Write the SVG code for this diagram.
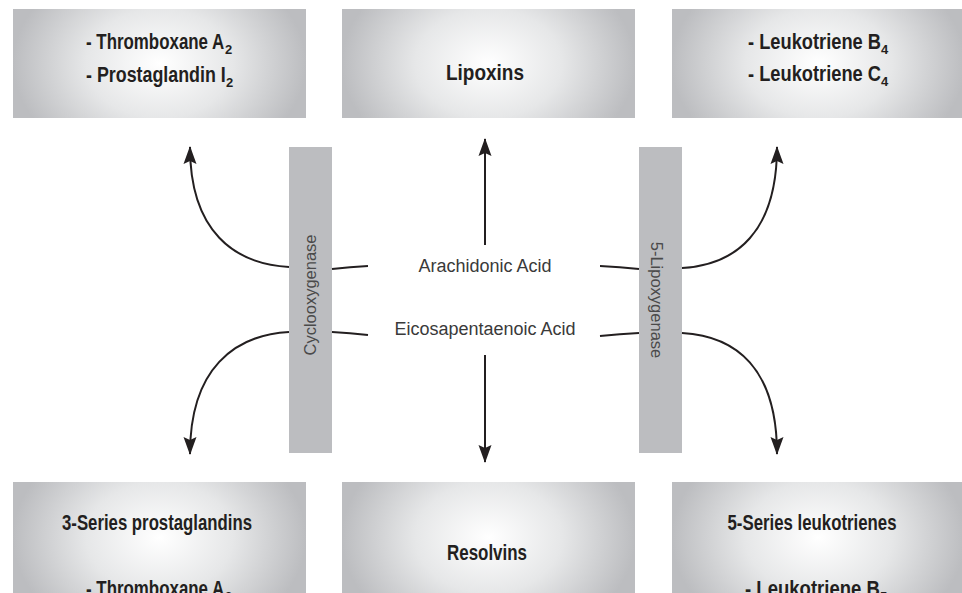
<svg xmlns="http://www.w3.org/2000/svg" width="962" height="593" viewBox="0 0 962 593">
<defs>
<radialGradient id="boxGrad" cx="0.5" cy="0.5" r="0.5" gradientTransform="translate(0.5,0.5) scale(1,2) translate(-0.5,-0.5)">
<stop offset="0" stop-color="#ffffff"/>
<stop offset="0.5" stop-color="#e6e7e8"/>
<stop offset="1" stop-color="#bcbdc0"/>
</radialGradient>
<marker id="arrow" markerUnits="userSpaceOnUse" markerWidth="20" markerHeight="14" viewBox="-1 -7 20 14" refX="17" refY="0" orient="auto">
<path d="M0,-6.5 L18,0 L0,6.5 L3,0 Z" fill="#231f20"/>
</marker>
</defs>
<style>
.box{fill:url(#boxGrad);}
.bar{fill:#bcbdc0;}
.bt{font-family:"Liberation Sans",Arial,sans-serif;font-weight:bold;font-size:22px;fill:#231f20;text-anchor:middle;}
.bl{font-family:"Liberation Sans",Arial,sans-serif;font-weight:bold;font-size:22px;fill:#231f20;text-anchor:start;}
.sub{font-family:"Liberation Sans",Arial,sans-serif;font-weight:bold;font-size:13px;fill:#231f20;text-anchor:start;}
.acid{font-family:"Liberation Sans",Arial,sans-serif;font-size:18px;fill:#3a3a3a;text-anchor:middle;}
.enz{font-family:"Liberation Sans",Arial,sans-serif;font-size:16.5px;fill:#4a4a4a;text-anchor:middle;}
.conn{fill:none;stroke:#231f20;stroke-width:2;}
.arr{marker-end:url(#arrow);}
</style>
<rect width="962" height="593" fill="#ffffff"/>

<g id="node-thromboxane-a2">
<rect class="box" x="13" y="9" width="293" height="109"/>
<text class="bl" transform="translate(86,49) scale(0.768,1)">- Thromboxane A</text>
<text class="sub" x="225" y="54">2</text>
<text class="bl" transform="translate(86,82) scale(0.812,1)">- Prostaglandin I</text>
<text class="sub" x="226" y="87">2</text>
</g>
<g id="node-lipoxins">
<rect class="box" x="342" y="9" width="293" height="109"/>
<text class="bt" x="485" y="80" textLength="78" lengthAdjust="spacingAndGlyphs">Lipoxins</text>
</g>
<g id="node-leukotriene-b4">
<rect class="box" x="672" y="9" width="293" height="109"/>
<text class="bl" transform="translate(748,49) scale(0.831,1)">- Leukotriene B</text>
<text class="sub" x="881" y="54">4</text>
<text class="bl" transform="translate(748,81) scale(0.831,1)">- Leukotriene C</text>
<text class="sub" x="881" y="86">4</text>
</g>
<g id="node-3-series">
<rect class="box" x="13" y="482" width="293" height="111"/>
<text class="bt" x="157" y="530" textLength="190" lengthAdjust="spacingAndGlyphs">3-Series prostaglandins</text>
<text class="bl" transform="translate(86,596) scale(0.768,1)">- Thromboxane A</text>
<text class="sub" x="225" y="601">3</text>
</g>
<g id="node-resolvins">
<rect class="box" x="342" y="482" width="293" height="111"/>
<text class="bt" x="487" y="560" textLength="80" lengthAdjust="spacingAndGlyphs">Resolvins</text>
</g>
<g id="node-5-series">
<rect class="box" x="672" y="482" width="293" height="111"/>
<text class="bt" x="812" y="530" textLength="169" lengthAdjust="spacingAndGlyphs">5-Series leukotrienes</text>
<text class="bl" transform="translate(745,596) scale(0.843,1)">- Leukotriene B</text>
<text class="sub" x="880" y="601">5</text>
</g>

<g id="node-cyclooxygenase">
<rect class="bar" x="289" y="147" width="43" height="306"/>
<text class="enz" transform="translate(316,295) rotate(-90)">Cyclooxygenase</text>
</g>
<g id="node-5-lipoxygenase">
<rect class="bar" x="639" y="147" width="43" height="306"/>
<text class="enz" transform="translate(651,300) rotate(90)">5-Lipoxygenase</text>
</g>

<g id="node-arachidonic">
<text class="acid" x="485" y="272">Arachidonic Acid</text>
</g>
<g id="node-eicosapentaenoic">
<text class="acid" x="485" y="335">Eicosapentaenoic Acid</text>
</g>

<g id="connectors">
<path class="conn" d="M368,266 Q350,267 332,269"/>
<path class="conn" d="M368,335 Q350,333 332,332"/>
<path class="conn" d="M600,266 Q620,267 639,269"/>
<path class="conn" d="M600,336 Q620,334 639,333"/>
<path class="conn arr" d="M289,267 C235,264 190,232 190,147"/>
<path class="conn arr" d="M289,332 C235,335 190,368 190,454"/>
<path class="conn arr" d="M682,268 C736,265 777,232 777,147"/>
<path class="conn arr" d="M682,333 C736,336 777,368 777,454"/>
<path class="conn arr" d="M485,245 L485,139"/>
<path class="conn arr" d="M485,355 L485,462"/>
</g>
</svg>
